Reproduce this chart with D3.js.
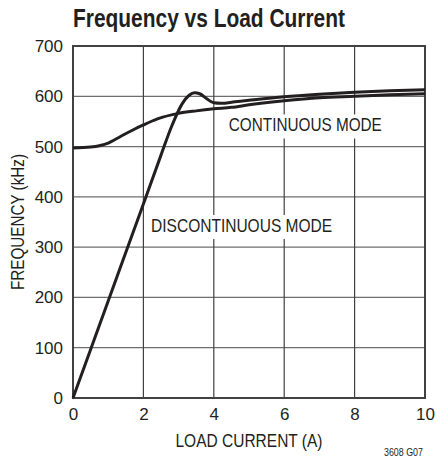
<!DOCTYPE html>
<html>
<head>
<meta charset="utf-8">
<script src="https://cdn.jsdelivr.net/npm/d3@7"></script>
<style>
  body { margin: 0; background: #fff; }
  text { font-family: "Liberation Sans", Arial, sans-serif; fill: #231f20; }
</style>
</head>
<body>
<div id="vis"></div>
<script>
// frame
const FRAME_WIDTH = 435;
const FRAME_HEIGHT = 463;
const MARGINS = {left: 73, right: 10, top: 46, bottom: 65};

// data
const X_TICKS = [0, 2, 4, 6, 8, 10];
const Y_TICKS = [0, 100, 200, 300, 400, 500, 600, 700];

const CONT_X = [0, 0.5, 1, 1.35, 1.7, 2, 2.4, 3, 3.5, 4, 4.5, 5, 6, 7, 8, 9, 10];
const CONT_Y = [497, 499, 507, 520, 533, 543, 555, 566, 571, 575, 578, 583, 591, 597, 600, 603, 605];

const DISC_X = [0, 1, 2, 2.5, 2.8, 3.1, 3.3, 3.45, 3.6, 3.8, 4.0, 4.2, 4.6, 5, 6, 7, 8, 9, 10];
const DISC_Y = [0, 193, 386, 483, 540, 585, 602, 607, 605, 595, 587, 586, 589, 592, 599, 604, 608, 611, 613];

const VIS_WIDTH = FRAME_WIDTH - MARGINS.left - MARGINS.right;
const VIS_HEIGHT = FRAME_HEIGHT - MARGINS.top - MARGINS.bottom;

const FRAME = d3.select("#vis")
                .append("svg")
                  .attr("width", FRAME_WIDTH)
                  .attr("height", FRAME_HEIGHT);

const X_SCALE = d3.scaleLinear().domain([0, 10]).range([0, VIS_WIDTH]);
const Y_SCALE = d3.scaleLinear().domain([0, 700]).range([VIS_HEIGHT, 0]);

const G = FRAME.append("g")
               .attr("transform", "translate(" + MARGINS.left + "," + MARGINS.top + ")");

// grid
G.append("g")
  .selectAll("line")
  .data(Y_TICKS.slice(1, -1))
  .enter()
  .append("line")
    .attr("x1", 0).attr("x2", VIS_WIDTH)
    .attr("y1", (d) => Y_SCALE(d)).attr("y2", (d) => Y_SCALE(d))
    .attr("stroke", "#6d6e71").attr("stroke-width", 1.2);

G.append("g")
  .selectAll("line")
  .data(X_TICKS.slice(1, -1))
  .enter()
  .append("line")
    .attr("x1", (d) => X_SCALE(d)).attr("x2", (d) => X_SCALE(d))
    .attr("y1", 0).attr("y2", VIS_HEIGHT)
    .attr("stroke", "#414042").attr("stroke-width", 1.2);

// label boxes break the grid
const LABELS = [
  {text: "CONTINUOUS MODE", x: 6.6, y: 530, w: 153},
  {text: "DISCONTINUOUS MODE", x: 4.79, y: 330, w: 181}
];

LABELS.forEach((l) => {
  const t = G.append("text")
    .attr("x", X_SCALE(l.x))
    .attr("y", Y_SCALE(l.y))
    .attr("text-anchor", "middle")
    .attr("font-size", "18px")
    .attr("textLength", l.w)
    .attr("lengthAdjust", "spacingAndGlyphs")
    .text(l.text);
  const bb = t.node().getBBox();
  G.insert("rect", "text")
    .attr("x", bb.x - 3).attr("y", bb.y - 1)
    .attr("width", bb.width + 6).attr("height", bb.height + 4)
    .attr("fill", "#fff");
});

// border
G.append("rect")
  .attr("x", 0).attr("y", 0)
  .attr("width", VIS_WIDTH).attr("height", VIS_HEIGHT)
  .attr("fill", "none")
  .attr("stroke", "#414042").attr("stroke-width", 2);

// curves
const LINE = d3.line()
  .x((d) => X_SCALE(d[0]))
  .y((d) => Y_SCALE(d[1]))
  .curve(d3.curveMonotoneX);

G.append("path")
  .datum(CONT_X.map((x, i) => [x, CONT_Y[i]]))
  .attr("d", LINE)
  .attr("fill", "none")
  .attr("stroke", "#231f20").attr("stroke-width", 3);

G.append("path")
  .datum(DISC_X.map((x, i) => [x, DISC_Y[i]]))
  .attr("d", LINE)
  .attr("fill", "none")
  .attr("stroke", "#231f20").attr("stroke-width", 3);

// axes
const XAXIS = G.append("g")
  .attr("transform", "translate(0," + VIS_HEIGHT + ")")
  .call(d3.axisBottom(X_SCALE).tickValues(X_TICKS).tickSize(0).tickPadding(10));
XAXIS.select(".domain").remove();

const YAXIS = G.append("g")
  .call(d3.axisLeft(Y_SCALE).tickValues(Y_TICKS).tickSize(0).tickPadding(10));
YAXIS.select(".domain").remove();

G.selectAll("g").attr("font-family", null).attr("font-size", null);
G.selectAll(".tick text").attr("font-size", "17px").attr("fill", "#231f20");

// titles
FRAME.append("text")
  .attr("x", MARGINS.left)
  .attr("y", 27)
  .attr("font-size", "26px")
  .attr("font-weight", "bold")
  .attr("textLength", 272)
  .attr("lengthAdjust", "spacingAndGlyphs")
  .text("Frequency vs Load Current");

FRAME.append("text")
  .attr("x", 249)
  .attr("y", 447)
  .attr("text-anchor", "middle")
  .attr("font-size", "18px")
  .attr("textLength", 147)
  .attr("lengthAdjust", "spacingAndGlyphs")
  .text("LOAD CURRENT (A)");

FRAME.append("text")
  .attr("transform", "translate(24," + 222 + ") rotate(-90)")
  .attr("text-anchor", "middle")
  .attr("font-size", "18px")
  .attr("textLength", 136)
  .attr("lengthAdjust", "spacingAndGlyphs")
  .text("FREQUENCY (kHz)");

FRAME.append("text")
  .attr("x", 423)
  .attr("y", 456)
  .attr("text-anchor", "end")
  .attr("font-size", "11px")
  .attr("textLength", 39)
  .attr("lengthAdjust", "spacingAndGlyphs")
  .text("3608 G07");
</script>
</body>
</html>
